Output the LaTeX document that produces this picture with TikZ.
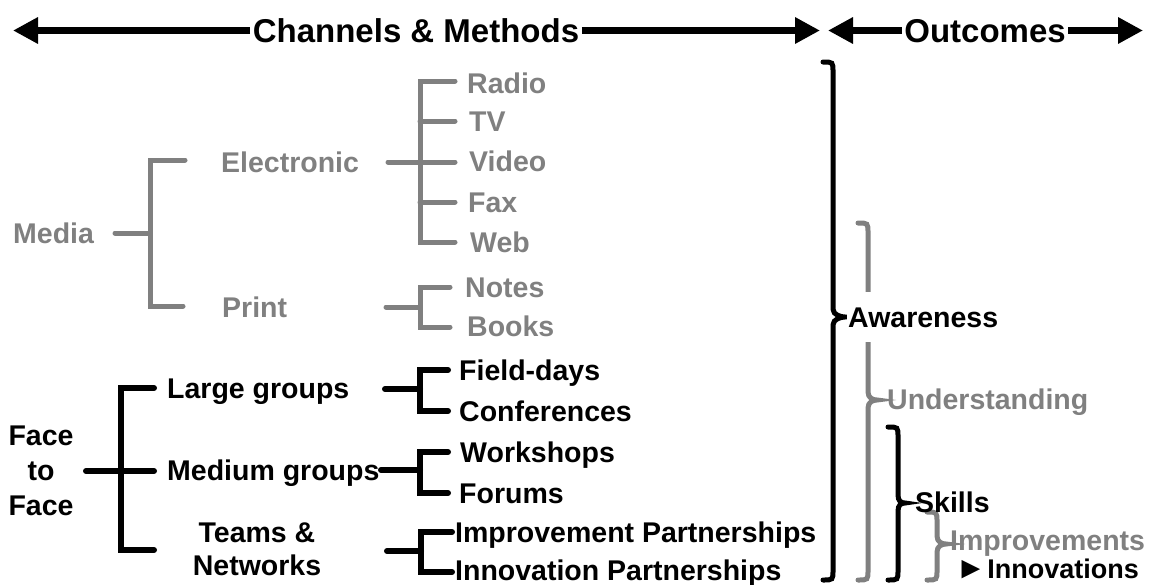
\documentclass[tikz,border=0pt]{standalone}
\usepackage{fontspec}
\setmainfont{Liberation Sans}
\usetikzlibrary{arrows.meta}
\definecolor{gry}{RGB}{128,128,128}
% curly brace opening to the right: style, spine x, top y, tip y, bottom y, tip x
\newcommand\drawbrc[6]{%
  \draw[#1] (#2-10,#3) .. controls (#2,#3) .. (#2,#3+10)
    -- (#2,#4-8) .. controls (#2,#4-2) and (#6-4,#4) .. (#6,#4)
    .. controls (#6-4,#4) and (#2,#4+2) .. (#2,#4+8)
    -- (#2,#5-10) .. controls (#2,#5) .. (#2-10,#5);}
\begin{document}
\begin{tikzpicture}[x=1pt,y=-1pt,
  lbl/.style={font=\fontsize{28.5}{30}\selectfont\bfseries, inner sep=0pt,
    text height=20.4pt, text depth=0pt, anchor=west},
  glbl/.style={lbl, text=gry},
  mlbl/.style={inner sep=0pt, align=center},
  hdr/.style={font=\fontsize{33}{36}\selectfont\bfseries, inner xsep=2.5pt,
    inner ysep=0pt, text height=23.6pt, text depth=0pt},
  harrow/.style={line width=7pt, -{Triangle[length=25pt,width=25pt]}},
  gline/.style={draw=gry, line width=5pt, line cap=round},
  bline/.style={draw=black, line width=6pt, line cap=round},
  gbrace/.style={draw=gry, line width=5pt, line cap=round},
  bbrace/.style={draw=black, line width=5pt, line cap=round},
]
\useasboundingbox (0,0) rectangle (1150,584);

% ---- header arrows
\node[hdr] (chan) at (416,30.5) {Channels \& Methods};
\node[hdr] (outc) at (985,30.5) {Outcomes};
\coordinate (chanL) at (13,30.5);
\coordinate (chanR) at (820,30.5);
\coordinate (outL) at (828,30.5);
\coordinate (outR) at (1143,30.5);
\draw[harrow] (chan.west) -- (chanL);
\draw[harrow] (chan.east) -- (chanR);
\draw[harrow] (outc.west) -- (outL);
\draw[harrow] (outc.east) -- (outR);

% ---- media branch (grey)
\node[glbl] (media) at (13,233) {Media};
\node[glbl] (elec) at (221,162) {Electronic};
\node[glbl] (print) at (222,307) {Print};
\node[glbl] (radio) at (467,83) {Radio};
\node[glbl] (tv) at (469,121) {TV};
\node[glbl] (video) at (469,161) {Video};
\node[glbl] (fax) at (468,202) {Fax};
\node[glbl] (web) at (470,242) {Web};
\node[glbl] (notes) at (465,287) {Notes};
\node[glbl] (books) at (467,326) {Books};

\coordinate (mediaOut) at (115,233);
\coordinate (mediaJ) at (150,233);
\coordinate (elecIn) at (185,160);
\coordinate (printIn) at (183,306);
\draw[gline] (mediaOut) -- (mediaJ);
\draw[gline] (elecIn) -- (elecIn -| mediaJ) -- (printIn -| mediaJ) -- (printIn);

\coordinate (elecOut) at (388,162);
\coordinate (elecJ) at (420,162);
\coordinate (radioIn) at (455,81);
\coordinate (tvIn) at (455,121);
\coordinate (videoIn) at (455,162);
\coordinate (faxIn) at (455,202);
\coordinate (webIn) at (455,242);
\draw[gline] (elecOut) -- (elecJ);
\draw[gline] (radioIn) -- (radioIn -| elecJ) -- (webIn -| elecJ) -- (webIn);
\foreach \t in {tvIn,videoIn,faxIn} \draw[gline] (\t -| elecJ) -- (\t);

\coordinate (printOut) at (386,307);
\coordinate (printJ) at (420,307);
\coordinate (notesIn) at (450,287);
\coordinate (booksIn) at (450,327);
\draw[gline] (printOut) -- (printJ);
\draw[gline] (notesIn) -- (notesIn -| printJ) -- (booksIn -| printJ) -- (booksIn);

% ---- face to face branch (black)
\node[mlbl, font=\fontsize{28.5}{35}\selectfont\bfseries] (face) at (41,471) {Face\\to\\Face};
\node[mlbl, font=\fontsize{28.5}{33}\selectfont\bfseries] (teams) at (257,549.5) {Teams \&\\Networks};
\node[lbl] (large) at (167,388) {Large groups};
\node[lbl] (medium) at (167,470) {Medium groups};
\node[lbl] (field) at (459,370) {Field-days};
\node[lbl] (conf) at (459,411) {Conferences};
\node[lbl] (work) at (460,452) {Workshops};
\node[lbl] (forum) at (459,493) {Forums};
\node[lbl] (impp) at (455,532) {Improvement Partnerships};
\node[lbl] (innp) at (455,570) {Innovation Partnerships};

\coordinate (faceOut) at (86,471);
\coordinate (faceJ) at (121,471);
\coordinate (largeIn) at (154,388);
\coordinate (medIn) at (154,471);
\coordinate (teamsIn) at (154,550);
\draw[bline] (faceOut) -- (medIn);
\draw[bline] (largeIn) -- (largeIn -| faceJ) -- (teamsIn -| faceJ) -- (teamsIn);

\coordinate (largeOut) at (385,389);
\coordinate (largeJ) at (420,389);
\coordinate (fieldIn) at (448,370);
\coordinate (confIn) at (448,411);
\draw[bline] (largeOut) -- (largeJ);
\draw[bline] (fieldIn) -- (fieldIn -| largeJ) -- (confIn -| largeJ) -- (confIn);

\coordinate (medOut) at (381,470);
\coordinate (medJ) at (420,470);
\coordinate (workIn) at (448,452);
\coordinate (forumIn) at (448,493);
\draw[bline] (medOut) -- (medJ);
\draw[bline] (workIn) -- (workIn -| medJ) -- (forumIn -| medJ) -- (forumIn);

\coordinate (teamsOut) at (387,551);
\coordinate (teamsJ) at (421,551);
\coordinate (imppIn) at (452,532);
\coordinate (innpIn) at (452,572);
\draw[bline] (teamsOut) -- (teamsJ);
\draw[bline] (imppIn) -- (imppIn -| teamsJ) -- (innpIn -| teamsJ) -- (innpIn);

% ---- outcome braces
\drawbrc{bbrace}{833}{62}{317}{580}{845}
\drawbrc{gbrace}{868}{223}{400}{580}{877}
\drawbrc{bbrace}{898}{427}{503}{580}{905}
\drawbrc{gbrace}{937}{512}{544}{580}{946}

\node[lbl, fill=white, inner ysep=15pt, inner xsep=1pt] (aware) at (847,317) {Awareness};
\node[glbl] (under) at (887,399) {Understanding};
\node[lbl] (skills) at (915,502) {Skills};
\node[glbl] (improv) at (950,540) {Improvements};
\node[lbl, anchor=east, font=\fontsize{27}{30}\selectfont\bfseries] (innov) at (1139,568)
  {{\fontsize{31}{30}\selectfont►}\hspace{1pt}Innovations};
\end{tikzpicture}
\end{document}
